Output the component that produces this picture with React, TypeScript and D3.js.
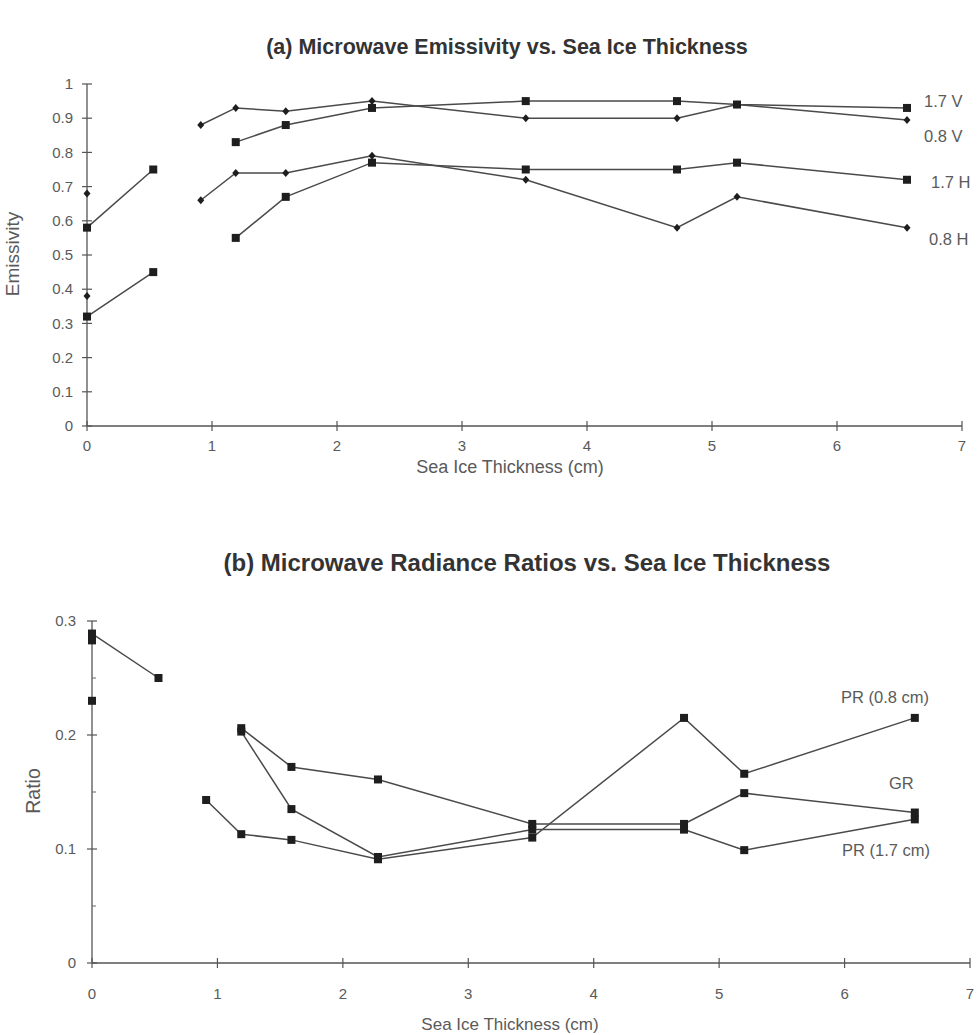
import React from "react";
import * as d3 from "d3";

// ---- Data ----
const thickness: number[] = [0, 0.53, 0.91, 1.19, 1.59, 2.28, 3.51, 4.72, 5.2, 6.56];

// Emissivity (panel a)
const em17V: (number | null)[] = [0.58, 0.75, null, 0.83, 0.88, 0.93, 0.95, 0.95, 0.94, 0.93];
const em08V: (number | null)[] = [0.68, null, 0.88, 0.93, 0.92, 0.95, 0.9, 0.9, 0.94, 0.895];
const em17H: (number | null)[] = [0.32, 0.45, null, 0.55, 0.67, 0.77, 0.75, 0.75, 0.77, 0.72];
const em08H: (number | null)[] = [0.38, null, 0.66, 0.74, 0.74, 0.79, 0.72, 0.58, 0.67, 0.58];

// Ratios (panel b)
const pr08: (number | null)[] = [0.283, null, 0.143, 0.113, 0.108, 0.091, 0.11, 0.215, 0.166, 0.215];
const pr17: (number | null)[] = [0.289, 0.25, null, 0.203, 0.135, 0.093, 0.117, 0.117, 0.099, 0.126];
const gr: (number | null)[] = [0.23, null, null, 0.206, 0.172, 0.161, 0.122, 0.122, 0.149, 0.132];

const xTicks = [0, 1, 2, 3, 4, 5, 6, 7];
const yTicksA = [0, 0.1, 0.2, 0.3, 0.4, 0.5, 0.6, 0.7, 0.8, 0.9, 1];
const yTicksB = [0, 0.1, 0.2, 0.3];
const yMinorB = [0.05, 0.15, 0.25];

const seriesA = [
  { name: "1.7 V", values: em17V, marker: "square" },
  { name: "0.8 V", values: em08V, marker: "diamond" },
  { name: "1.7 H", values: em17H, marker: "square" },
  { name: "0.8 H", values: em08H, marker: "diamond" },
];
const seriesB = [
  { name: "PR (0.8 cm)", values: pr08, marker: "square" },
  { name: "PR (1.7 cm)", values: pr17, marker: "square" },
  { name: "GR", values: gr, marker: "square" },
];

const labelsA = [
  { text: "1.7 V", x: 924, y: 101 },
  { text: "0.8 V", x: 924, y: 136 },
  { text: "1.7 H", x: 931, y: 182 },
  { text: "0.8 H", x: 929, y: 239 },
];
const labelsB = [
  { text: "PR (0.8 cm)", x: 841, y: 697 },
  { text: "GR", x: 889, y: 783 },
  { text: "PR (1.7 cm)", x: 842, y: 850 },
];

const FONT = "'Liberation Sans', Arial, Helvetica, sans-serif";
const LINE = "#4a4a4a";
const MARK = "#1e1e1e";
const TEXT = "#5a5a5a";

type Series = { name: string; values: (number | null)[]; marker: string };

function Panel(props: {
  series: Series[];
  xRange: [number, number];
  yRange: [number, number];
  yDomain: [number, number];
  yTicks: number[];
  yMinor: number[];
  yFmt: (v: number) => string;
  title: string;
  titleSize: number;
  titleX: number;
  titleY: number;
  yLabel: string;
  yLabelX: number;
  yLabelY: number;
  yLabelSize: number;
  tickLabelOffset: number;
  tickSize: number;
  xTickLabelY: number;
  xLabelY: number;
  xLabelX: number;
  xLabelSize: number;
  labels: { text: string; x: number; y: number }[];
}) {
  const x = d3.scaleLinear().domain([0, 7]).range(props.xRange);
  const y = d3.scaleLinear().domain(props.yDomain).range(props.yRange);
  const x0 = props.xRange[0];
  const y0 = props.yRange[0];
  const line = d3
    .line<number | null>()
    .defined((d) => d != null)
    .x((_, i) => x(thickness[i]))
    .y((d) => y(d as number));
  return (
    <g>
      <text
        x={props.titleX}
        y={props.titleY}
        textAnchor="middle"
        fontFamily={FONT}
        fontWeight="bold"
        fontSize={props.titleSize}
        fill="#333"
      >
        {props.title}
      </text>
      {/* axes */}
      <line x1={x0} x2={x0} y1={props.yRange[0]} y2={props.yRange[1]} stroke="#555" strokeWidth={1.3} />
      <line x1={props.xRange[0]} x2={props.xRange[1]} y1={y0} y2={y0} stroke="#555" strokeWidth={1.3} />
      {props.yTicks.map((t) => (
        <g key={"yt" + t}>
          <line x1={x0 - 5} x2={x0 + 5} y1={y(t)} y2={y(t)} stroke="#555" strokeWidth={1.2} />
          <text
            x={x0 - props.tickLabelOffset}
            y={y(t)}
            dy="0.35em"
            textAnchor="end"
            fontFamily={FONT}
            fontSize={props.tickSize}
            fill={TEXT}
          >
            {props.yFmt(t)}
          </text>
        </g>
      ))}
      {props.yMinor.map((t) => (
        <line key={"ym" + t} x1={x0} x2={x0 + 4} y1={y(t)} y2={y(t)} stroke="#666" strokeWidth={1} />
      ))}
      {xTicks.map((t) => (
        <g key={"xt" + t}>
          <line x1={x(t)} x2={x(t)} y1={y0 - 5} y2={y0 + 5} stroke="#555" strokeWidth={1.2} />
          <text
            x={x(t)}
            y={props.xTickLabelY}
            dy="0.35em"
            textAnchor="middle"
            fontFamily={FONT}
            fontSize={props.tickSize}
            fill={TEXT}
          >
            {t}
          </text>
        </g>
      ))}
      <text
        x={props.xLabelX}
        y={props.xLabelY}
        dy="0.35em"
        textAnchor="middle"
        fontFamily={FONT}
        fontSize={props.xLabelSize}
        fill={TEXT}
      >
        Sea Ice Thickness (cm)
      </text>
      <text
        transform={`translate(${props.yLabelX},${props.yLabelY}) rotate(-90)`}
        textAnchor="middle"
        dy="0.35em"
        fontFamily={FONT}
        fontSize={props.yLabelSize}
        fill={TEXT}
      >
        {props.yLabel}
      </text>
      {/* lines */}
      {props.series.map((s) => (
        <path key={"l" + s.name} d={line(s.values) || ""} fill="none" stroke={LINE} strokeWidth={1.5} />
      ))}
      {/* markers */}
      {props.series.map((s) =>
        s.values.map((v, i) => {
          if (v == null) return null;
          const cx = x(thickness[i]);
          const cy = y(v);
          if (s.marker === "square") {
            return <rect key={s.name + i} x={cx - 4} y={cy - 4} width={8} height={8} fill={MARK} />;
          }
          return (
            <path
              key={s.name + i}
              d={`M${cx},${cy - 4}L${cx + 3.5},${cy}L${cx},${cy + 4}L${cx - 3.5},${cy}Z`}
              fill={MARK}
            />
          );
        })
      )}
      {props.labels.map((l) => (
        <text key={l.text} x={l.x} y={l.y} dy="0.35em" fontFamily={FONT} fontSize={16.5} fill={TEXT}>
          {l.text}
        </text>
      ))}
    </g>
  );
}

export default function App() {
  return (
    <svg
      width={977}
      height={1035}
      style={{ position: "absolute", left: 0, top: 0, background: "#fff" }}
    >
      <rect width={977} height={1035} fill="#fff" />
      <Panel
        series={seriesA}
        xRange={[87, 962]}
        yRange={[426, 84]}
        yDomain={[0, 1]}
        yTicks={yTicksA}
        yMinor={[]}
        yFmt={(v) => d3.format("")(+v.toFixed(1))}
        title="(a) Microwave Emissivity vs. Sea Ice Thickness"
        titleSize={21.5}
        titleX={507}
        titleY={54}
        yLabel="Emissivity"
        yLabelX={12}
        yLabelY={254}
        yLabelSize={19}
        tickLabelOffset={14}
        tickSize={15}
        xTickLabelY={446}
        xLabelY={467}
        xLabelX={510}
        xLabelSize={18}
        labels={labelsA}
      />
      <Panel
        series={seriesB}
        xRange={[92, 970]}
        yRange={[963, 621]}
        yDomain={[0, 0.3]}
        yTicks={yTicksB}
        yMinor={yMinorB}
        yFmt={(v) => d3.format("")(+v.toFixed(1))}
        title="(b) Microwave Radiance Ratios vs. Sea Ice Thickness"
        titleSize={24}
        titleX={527}
        titleY={571}
        yLabel="Ratio"
        yLabelX={33}
        yLabelY={791}
        yLabelSize={19.5}
        tickLabelOffset={16}
        tickSize={15}
        xTickLabelY={994}
        xLabelY={1024}
        xLabelX={510}
        xLabelSize={17}
        labels={labelsB}
      />
    </svg>
  );
}
